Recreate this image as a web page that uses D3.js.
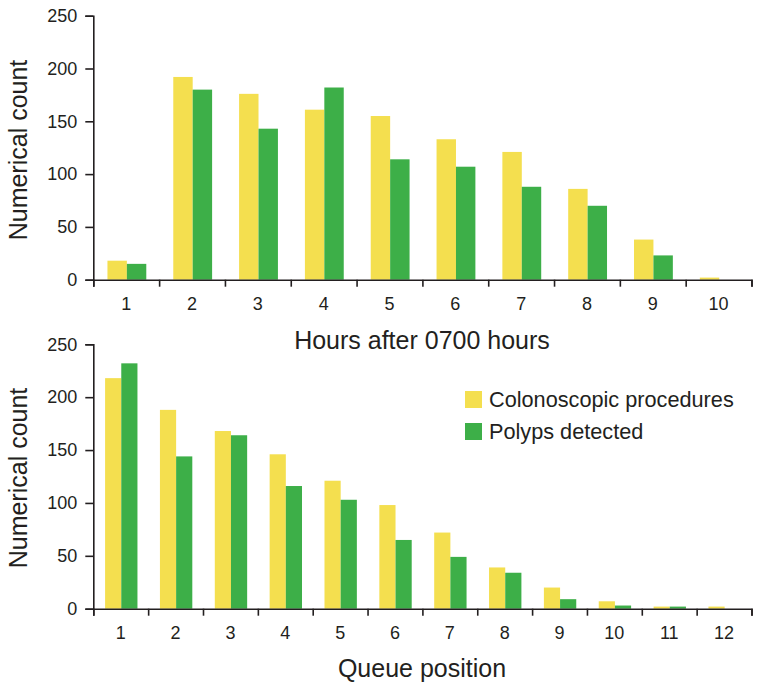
<!DOCTYPE html>
<html>
<head>
<meta charset="utf-8">
<script src="https://cdn.jsdelivr.net/npm/d3@7"></script>
<style>
  body { margin: 0; background: #fff; }
  text { font-family: "Liberation Sans", Arial, sans-serif; fill: #231f20; }
</style>
</head>
<body>
<div id="chart"></div>
<script>
// data
const seriesNames = ["Colonoscopic procedures", "Polyps detected"];
const hourLabels = ["1", "2", "3", "4", "5", "6", "7", "8", "9", "10"];
const hourProcedures = [18, 192, 176, 161, 155, 133, 121, 86, 38, 2];
const hourPolyps = [15, 180, 143, 182, 114, 107, 88, 70, 23, 0];
const queueLabels = ["1", "2", "3", "4", "5", "6", "7", "8", "9", "10", "11", "12"];
const queueProcedures = [218, 188, 168, 146, 121, 98, 72, 39, 20, 7, 2, 2];
const queuePolyps = [232, 144, 164, 116, 103, 65, 49, 34, 9, 3, 2, 0];
const yTicks = [0, 50, 100, 150, 200, 250];

const colors = ["#f4df4f", "#3daf48"];
const axisColor = "#231f20";

const W = 762, H = 693;
const svg = d3
  .select("#chart")
  .append("svg")
  .attr("width", W)
  .attr("height", H);

// one panel = one grouped bar chart
function drawPanel(opts) {
  const { labels, series, top, bottom, title, titleY, yLabelY } = opts;
  const left = 93.3, right = 751.5;

  const x = d3.scaleBand().domain(labels).range([left, right]).padding(0);
  const bw = x.bandwidth();
  const xInner = d3
    .scaleBand()
    .domain(seriesNames)
    .range([bw * 0.215, bw * 0.805])
    .padding(0);
  const y = d3.scaleLinear().domain([0, 250]).range([bottom, top]);

  const rows = labels.map((l, i) => ({
    label: l,
    values: seriesNames.map((s, j) => ({ name: s, value: series[j][i] })),
  }));

  // bars
  svg
    .append("g")
    .selectAll("g")
    .data(rows)
    .join("g")
    .attr("transform", (d) => `translate(${x(d.label)},0)`)
    .selectAll("rect")
    .data((d) => d.values)
    .join("rect")
    .attr("x", (d) => xInner(d.name))
    .attr("width", xInner.bandwidth())
    .attr("y", (d) => y(d.value))
    .attr("height", (d) => y(0) - y(d.value))
    .attr("fill", (d, i) => colors[i]);

  // x axis: ticks on band edges, labels in the band centres
  const edges = d3.scaleLinear().domain([0, labels.length]).range([left, right]);
  const xEdge = svg
    .append("g")
    .attr("transform", `translate(0,${bottom})`)
    .call(
      d3
        .axisBottom(edges)
        .tickValues(d3.range(labels.length + 1))
        .tickFormat("")
        .tickSize(7)
    );
  xEdge.selectAll("path, line").attr("stroke", axisColor).attr("stroke-width", 1.6);

  const xLab = svg
    .append("g")
    .attr("transform", `translate(0,${bottom})`)
    .call(d3.axisBottom(x).tickSize(0).tickPadding(18));
  xLab.select(".domain").remove();
  xLab.selectAll("text").style("font-size", "18px").attr("fill", axisColor);

  // y axis
  const yAx = svg
    .append("g")
    .attr("transform", `translate(${left},0)`)
    .call(d3.axisLeft(y).tickValues(yTicks).tickSize(8).tickPadding(8));
  yAx.selectAll("path, line").attr("stroke", axisColor).attr("stroke-width", 1.6);
  yAx.selectAll("text").style("font-size", "18px").attr("fill", axisColor);

  // titles
  svg
    .append("text")
    .attr("x", 422)
    .attr("y", titleY)
    .attr("text-anchor", "middle")
    .style("font-size", "25px")
    .text(title);

  svg
    .append("text")
    .attr("transform", `translate(27,${yLabelY}) rotate(-90)`)
    .attr("text-anchor", "middle")
    .style("font-size", "25px")
    .text("Numerical count");
}

drawPanel({
  labels: hourLabels,
  series: [hourProcedures, hourPolyps],
  top: 15.7,
  bottom: 279.7,
  title: "Hours after 0700 hours",
  titleY: 349,
  yLabelY: 150,
});

drawPanel({
  labels: queueLabels,
  series: [queueProcedures, queuePolyps],
  top: 344.3,
  bottom: 608.7,
  title: "Queue position",
  titleY: 677,
  yLabelY: 478,
});

// legend
const legend = svg
  .append("g")
  .selectAll("g")
  .data(seriesNames)
  .join("g")
  .attr("transform", (d, i) => `translate(465,${391 + i * 32})`);

legend
  .append("rect")
  .attr("width", 17)
  .attr("height", 17)
  .attr("fill", (d, i) => colors[i]);

legend
  .append("text")
  .attr("x", 24)
  .attr("y", 15.5)
  .style("font-size", "21.7px")
  .text((d) => d);
</script>
</body>
</html>
